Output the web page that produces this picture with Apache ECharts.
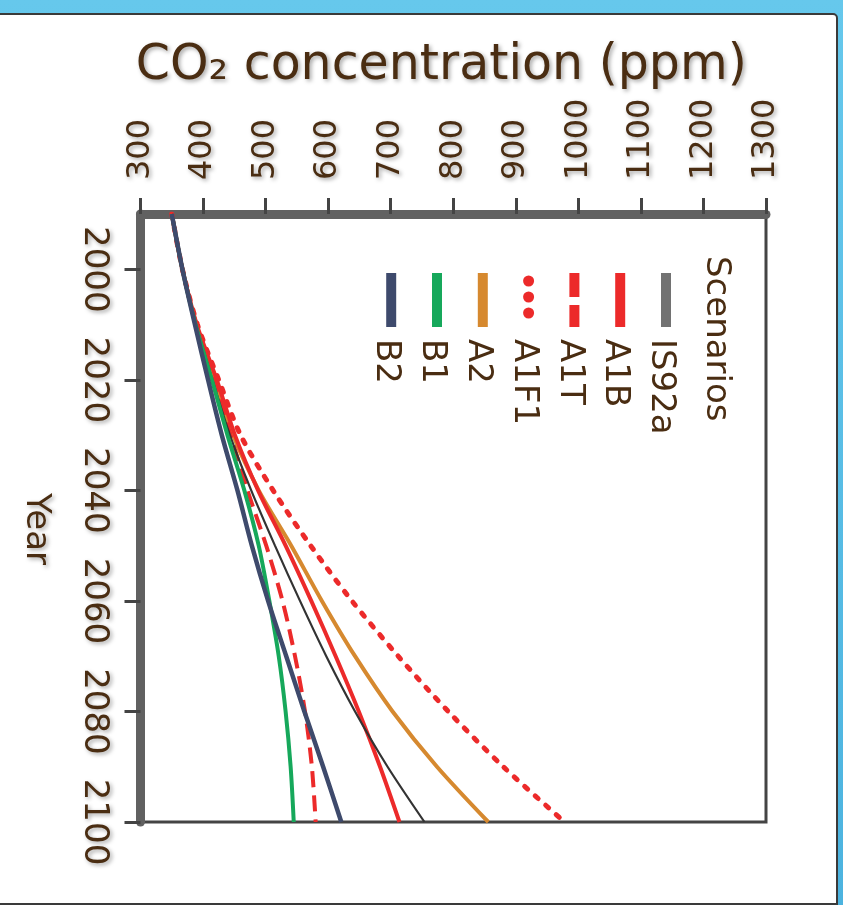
<!DOCTYPE html>
<html>
<head>
<meta charset="utf-8">
<script src="https://cdn.jsdelivr.net/npm/echarts@6/dist/echarts.min.js"></script>
<style>
  html, body { margin: 0; padding: 0; }
  body { width: 843px; height: 905px; position: relative; overflow: hidden;
         background: linear-gradient(#66c8ec, #4cb3df); }
  #panel { position: absolute; left: -4px; top: 13px; width: 838px; height: 888px;
           background: #fff; border: 2px solid #3a3a3a; border-radius: 0 5px 0 0; }
  #chart { position: absolute; left: 0; top: 0; width: 843px; height: 905px; }
</style>
</head>
<body>
<div id="panel"></div>
<div id="chart"></div>
<script>
// rotated IPCC figure: CO2 across the top, years running down
var years = [1990, 2000, 2010, 2020, 2030, 2040, 2050, 2060, 2070, 2080, 2090, 2100];
var yearTicks = [2000, 2020, 2040, 2060, 2080, 2100];

var co2A1FI  = [350, 367, 391, 425, 460, 512, 572, 638, 712, 792, 880, 978];
var co2A2    = [350, 367, 389, 419, 448, 489, 541, 590, 643, 703, 774, 856];
var co2A1B   = [350, 367, 390, 422, 451, 488, 532, 573, 612, 649, 683, 714];
var co2IS92a = [350, 367, 389, 415, 443, 477, 515, 555, 597, 643, 695, 754];
var co2A1T   = [350, 367, 389, 417, 444, 471, 501, 527, 547, 563, 574, 580];
var co2B1    = [350, 367, 388, 414, 439, 466, 489, 506, 521, 532, 540, 545];
var co2B2    = [350, 367, 387, 408, 430, 455, 478, 504, 533, 562, 592, 621];

var legendOrder = ['IS92a', 'A1B', 'A1T', 'A1F1', 'A2', 'B1', 'B2'];

var brown = '#4a2d12';
var font = '"DejaVu Sans", sans-serif';
var shadow = { textShadowColor: 'rgba(0,0,0,0.35)', textShadowBlur: 4, textShadowOffsetX: 2, textShadowOffsetY: 2 };

var scen = {
  'A2':    { data: co2A2,    color: '#d6892f', width: 4,   type: 'solid' },
  'A1F1':  { data: co2A1FI,  color: '#ec2a2a', width: 5,   type: [4, 10], cap: 'round' },
  'A1T':   { data: co2A1T,   color: '#ec2a2a', width: 4,   type: [16, 8] },
  'A1B':   { data: co2A1B,   color: '#ec2a2a', width: 4,   type: 'solid' },
  'IS92a': { data: co2IS92a, color: '#333333', width: 2.2, type: 'solid', legend: '#727272' },
  'B1':    { data: co2B1,    color: '#16a85b', width: 4,   type: 'solid' },
  'B2':    { data: co2B2,    color: '#3e4a6c', width: 4.5, type: 'solid' }
};

function pairs(vals) {
  return vals.map(function (v, i) { return [v, years[i]]; });
}
function plain(v) { return String(v); }

var series = Object.keys(scen).map(function (k, i) {
  var s = scen[k];
  return {
    type: 'line', name: k, data: pairs(s.data), smooth: 0.3,
    showSymbol: false, symbol: 'none', z: 2 + i, silent: true,
    lineStyle: { color: s.color, width: s.width, type: s.type, cap: s.cap || 'butt' }
  };
});

// legend drawn by hand since it is rotated
var txtShadow = { shadowColor: 'rgba(0,0,0,0.35)', shadowBlur: 4, shadowOffsetX: 2, shadowOffsetY: 2 };
var graphics = [{
  type: 'text', x: 716, y: 256, rotation: -Math.PI / 2, z: 50,
  style: Object.assign({ text: 'Scenarios', fontSize: 34, fontFamily: font, fill: brown,
           align: 'left', verticalAlign: 'middle', textAlign: 'left', textVerticalAlign: 'middle' }, txtShadow)
}];
legendOrder.forEach(function (k, i) {
  var s = scen[k], cx = 666 - i * 45.8;
  var col = s.legend || s.color;
  if (k === 'A1F1') {
    [281, 297, 313].forEach(function (cy) {
      graphics.push({ type: 'circle', z: 50, shape: { cx: cx, cy: cy, r: 5.5 }, style: { fill: col } });
    });
  } else {
    graphics.push({
      type: 'line', z: 50, shape: { x1: cx, y1: 273, x2: cx, y2: 327 },
      style: { stroke: col, lineWidth: 10, lineDash: k === 'A1T' ? [24, 8] : null }
    });
  }
  graphics.push({
    type: 'text', x: cx - 5, y: 339, rotation: -Math.PI / 2, z: 50,
    style: Object.assign({ text: k, fontSize: 34, fontFamily: font, fill: brown,
             align: 'left', verticalAlign: 'middle', textAlign: 'left', textVerticalAlign: 'middle' }, txtShadow)
  });
});

var chart = echarts.init(document.getElementById('chart'));
chart.setOption({
  animation: false,
  grid: { left: 140.5, right: 77, top: 214, bottom: 83, show: true,
          borderColor: '#444', borderWidth: 3, backgroundColor: 'transparent' },
  xAxis: {
    type: 'value', position: 'top', min: 300, max: 1300, interval: 100,
    name: 'CO\u2082 concentration (ppm)', nameLocation: 'middle', nameGap: 118,
    nameTextStyle: Object.assign({ fontSize: 49, fontFamily: font, color: brown, padding: [0, 24, 0, 0] }, shadow),
    axisLine: { lineStyle: { color: '#616161', width: 9 } },
    axisTick: { length: 16, lineStyle: { color: '#444', width: 3 } },
    axisLabel: Object.assign({ rotate: -90, margin: 34, fontSize: 32, fontFamily: font, color: brown,
                               showMinLabel: true, showMaxLabel: true, formatter: plain }, shadow),
    splitLine: { show: false }
  },
  yAxis: {
    type: 'value', inverse: true, min: 1990, max: 2100,
    name: 'Year', nameLocation: 'middle', nameGap: 88, nameRotate: -90,
    nameTextStyle: Object.assign({ fontSize: 34, fontFamily: font, color: brown, padding: [0, 0, 0, 22] }, shadow),
    axisLine: { lineStyle: { color: '#616161', width: 9 } },
    axisTick: { length: 16, customValues: yearTicks, lineStyle: { color: '#444', width: 3 } },
    axisLabel: Object.assign({ rotate: -90, margin: 30, fontSize: 34, fontFamily: font, color: brown,
                               customValues: yearTicks, formatter: plain }, shadow),
    splitLine: { show: false }
  },
  graphic: graphics,
  series: series
});
</script>
</body>
</html>
